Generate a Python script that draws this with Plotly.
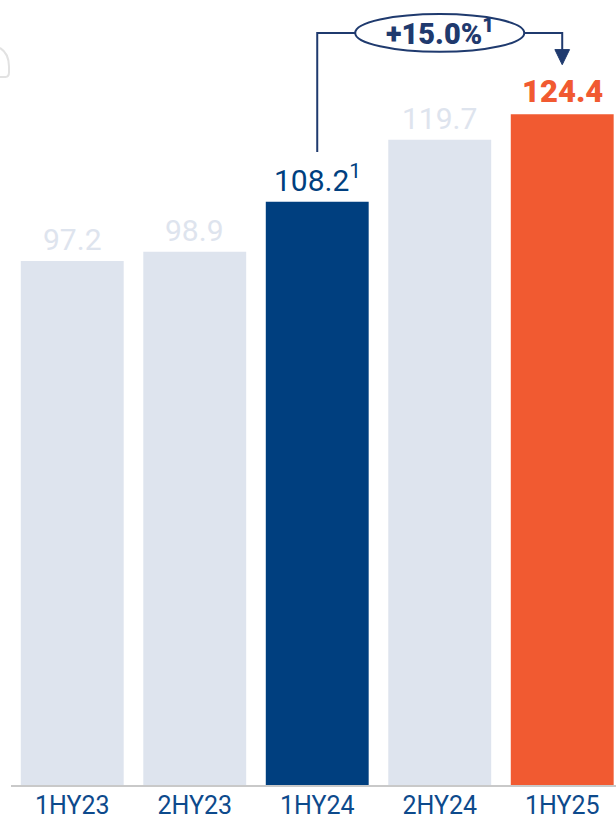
import plotly.graph_objects as go

# Half-year values
periods = ["1HY23", "2HY23", "1HY24", "2HY24", "1HY25"]
values = [97.2, 98.9, 108.2, 119.7, 124.4]
value_labels = ["97.2", "98.9", "108.2<sup>1</sup>", "119.7", "124.4"]
growth_label = "+15.0%<sup>1</sup>"

LIGHT = "#dee4ee"
NAVY = "#003f7f"
ORANGE = "#f15a31"
ARROW = "#1f3a6e"

bar_colors = [LIGHT, LIGHT, NAVY, LIGHT, ORANGE]
label_colors = [LIGHT, LIGHT, NAVY, LIGHT, ORANGE]

x = list(range(len(periods)))

fig = go.Figure()
fig.add_trace(go.Bar(
    x=x, y=values, marker=dict(color=bar_colors, line=dict(width=0)),
    width=0.84, hoverinfo="skip",
))

# value labels above each bar
for i, (v, t) in enumerate(zip(values, value_labels)):
    bold = i == 4
    fig.add_annotation(
        x=i, y=v, yanchor="bottom", xanchor="center", yshift=2,
        text=t, showarrow=False,
        font=dict(family="Roboto", size=31 if bold else 30, color=label_colors[i],
                  weight=900 if bold else 400),
    )

# growth connector from 1HY24 to 1HY25
i0, i1 = 2, 4
gap = 9.2
top_y = 139.5
fig.add_shape(type="path",
              path=f"M {i0},{values[i0] + gap} L {i0},{top_y} L {i1},{top_y} L {i1},{values[i1] + gap + 2.6}",
              line=dict(color=ARROW, width=2), layer="above")
# arrow head
ah_w, ah_h = 0.06, 2.8
tip = values[i1] + gap
fig.add_shape(type="path",
              path=f"M {i1 - ah_w},{tip + ah_h} L {i1 + ah_w},{tip + ah_h} L {i1},{tip} Z",
              fillcolor=ARROW, line=dict(color=ARROW, width=1), layer="above")
# ellipse badge
cx = (i0 + i1) / 2
fig.add_shape(type="circle", x0=cx - 0.69, x1=cx + 0.69, y0=top_y - 3.5, y1=top_y + 3.5,
              fillcolor="white", line=dict(color=ARROW, width=2), layer="above")
fig.add_annotation(x=cx, y=top_y, text=growth_label, showarrow=False,
                   font=dict(family="Roboto", size=29, color=ARROW, weight=900), yshift=1)

# faint rounded mark at the top-left edge
fig.add_shape(type="path", xref="paper", yref="paper",
              path=("M -0.0182,0.9389 Q -0.0033,0.932 -0.0033,0.915 "
                    "L -0.0033,0.908 Q -0.0033,0.902 -0.009,0.902 L -0.0182,0.902"),
              line=dict(color="#e2e2e2", width=2), fillcolor="rgba(0,0,0,0)")

fig.update_layout(
    width=616, height=821,
    margin=dict(l=11, r=0, t=0, b=36),
    paper_bgcolor="white", plot_bgcolor="white",
    showlegend=False,
    xaxis=dict(
        range=[-0.5, 4.439], tickmode="array", tickvals=x, ticktext=periods,
        showgrid=False, zeroline=False, showline=True, linecolor="#c9c9c9", linewidth=2,
        ticks="", tickfont=dict(family="Roboto", size=25, color="#0d4a8c"),
        ticklabelstandoff=-3, automargin=False,
    ),
    yaxis=dict(range=[0, 145.6], visible=False, showgrid=False, zeroline=False,
               automargin=False),
)

fig.write_html("out.html")
